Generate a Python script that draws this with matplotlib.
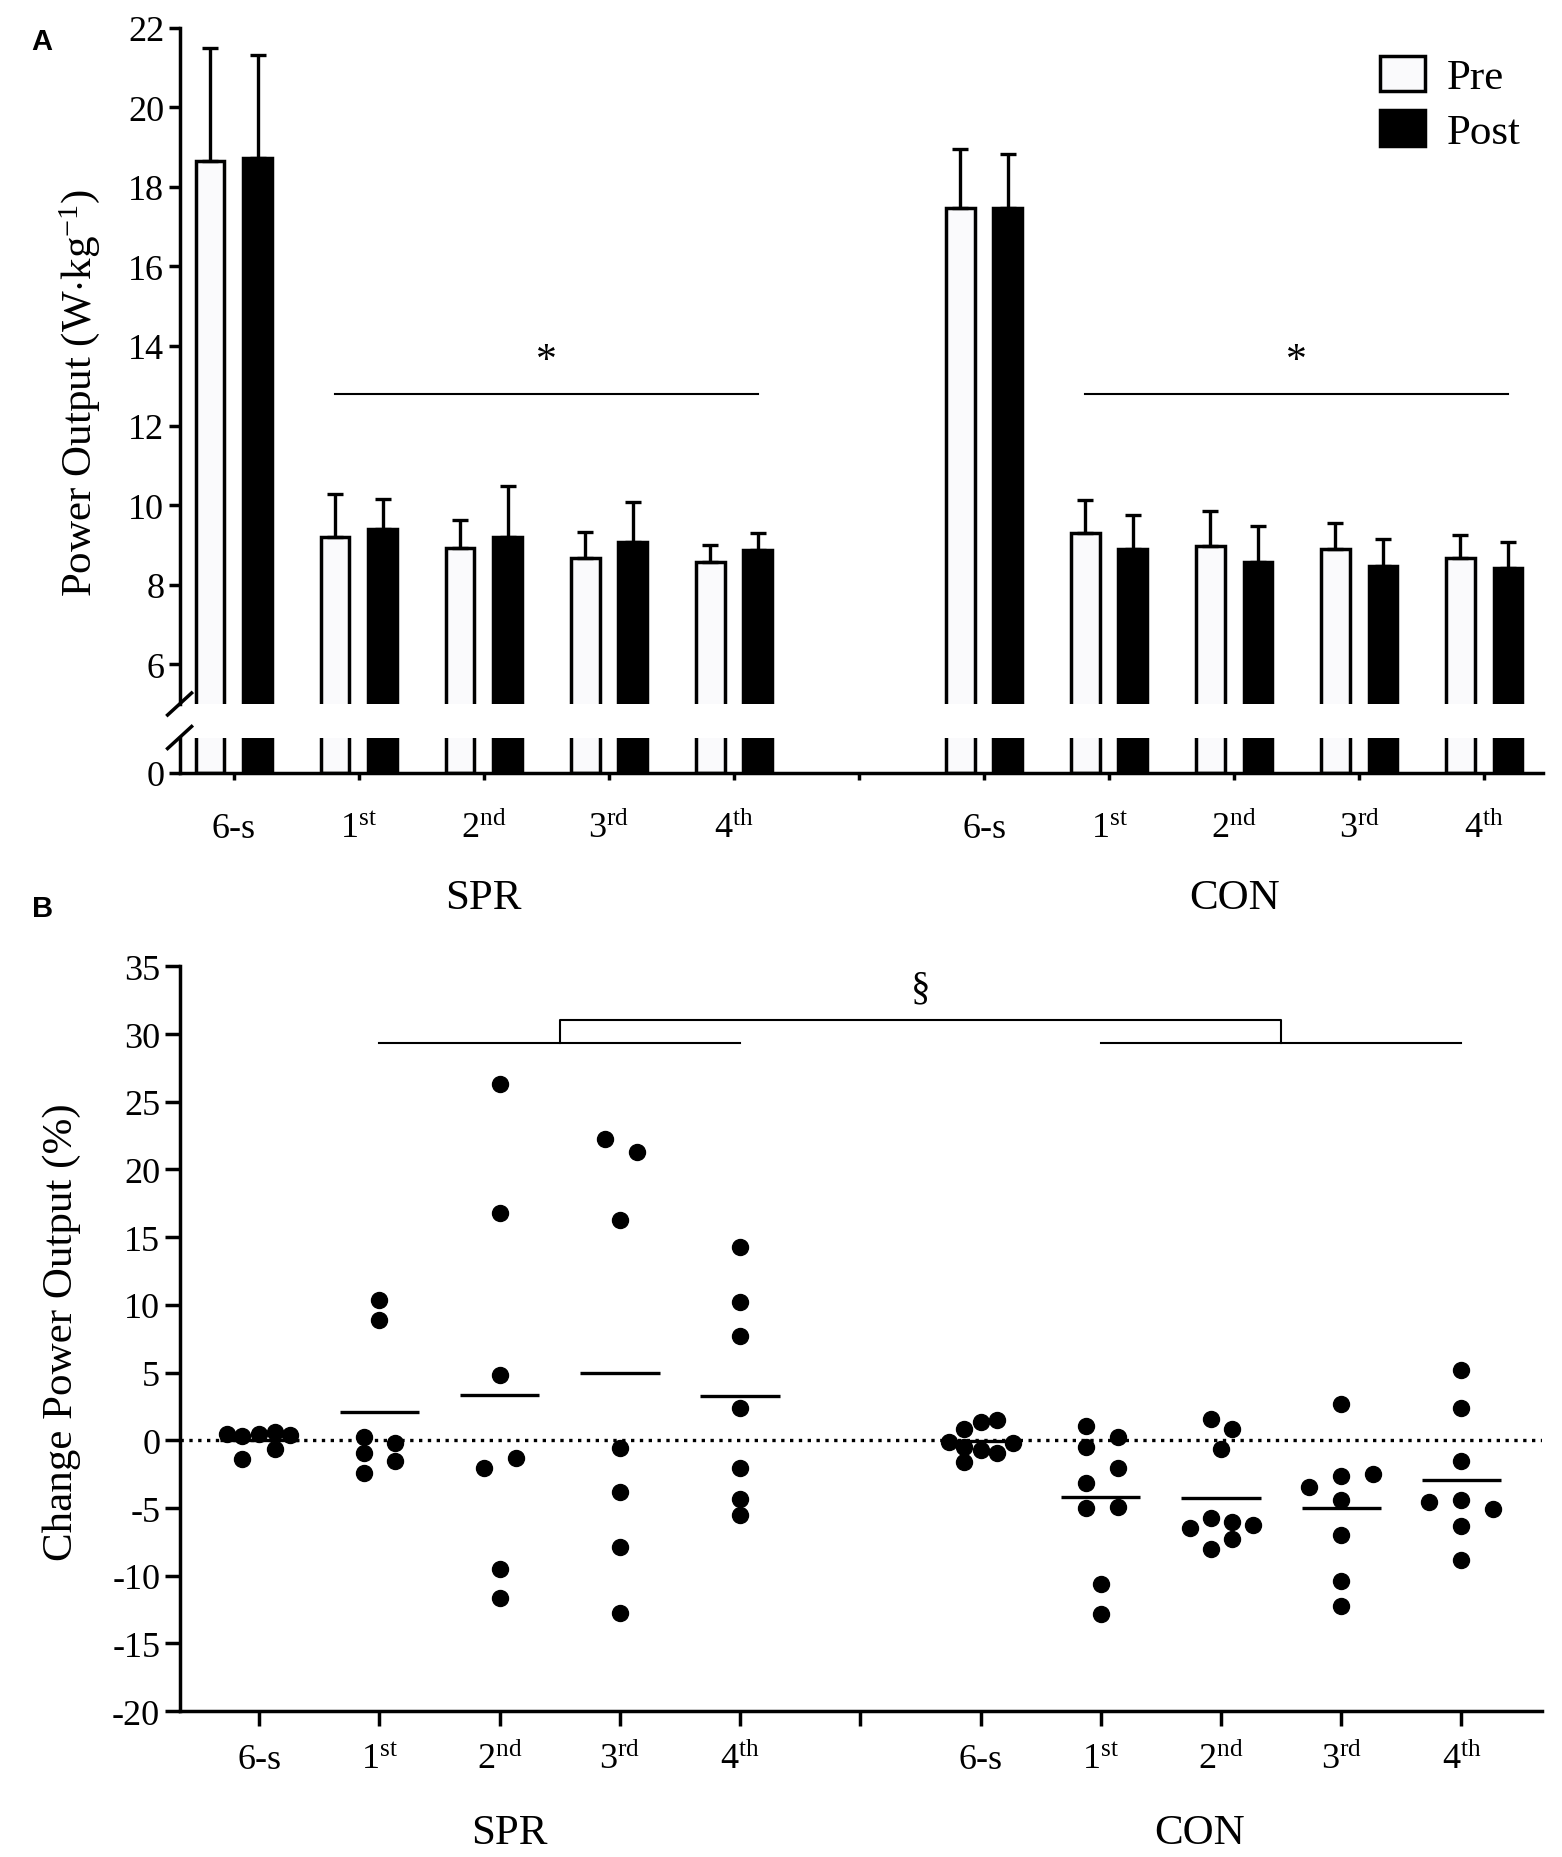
# %% Import
import numpy as np
import matplotlib.pyplot as plt
from matplotlib.patches import Patch
from matplotlib.lines import Line2D
from matplotlib import transforms

plt.rcParams['font.family'] = ['Liberation Serif', 'DejaVu Serif']
plt.rcParams['mathtext.fontset'] = 'custom'
plt.rcParams['mathtext.rm'] = 'Liberation Serif'
plt.rcParams['mathtext.it'] = 'Liberation Serif:italic'
plt.rcParams['axes.unicode_minus'] = False

# %% Data
groups = ['SPR', 'CON']
sessions = ['6-s', '1st', '2nd', '3rd', '4th']
tick_labels = ['6-s', r'1$^{\mathrm{st}}$', r'2$^{\mathrm{nd}}$',
               r'3$^{\mathrm{rd}}$', r'4$^{\mathrm{th}}$']

# panel A, mean and SD (W/kg)
spr_pre = [18.65, 9.21, 8.93, 8.67, 8.57]
spr_pre_sd = [2.84, 1.06, 0.69, 0.65, 0.42]
spr_post = [18.72, 9.39, 9.21, 9.08, 8.86]
spr_post_sd = [2.60, 0.77, 1.27, 0.99, 0.43]
con_pre = [17.48, 9.29, 8.96, 8.90, 8.66]
con_pre_sd = [1.46, 0.84, 0.90, 0.65, 0.59]
con_post = [17.48, 8.90, 8.57, 8.48, 8.41]
con_post_sd = [1.34, 0.85, 0.90, 0.68, 0.65]

# panel B, individual change (%)
spr_change = [
    [0.44, 0.30, 0.44, 0.58, 0.39, -1.36, -0.67],
    [10.39, 8.87, 0.25, -0.94, -0.21, -1.54, -2.42],
    [26.29, 16.75, 4.86, -2.05, -1.27, -9.52, -11.64],
    [22.28, 21.27, 16.29, -0.53, -3.85, -7.86, -12.74],
    [14.26, 10.25, 7.72, 2.37, -2.05, -4.31, -5.55],
]
con_change = [
    [-0.10, 0.86, 1.38, 1.50, -0.22, -0.49, -0.71, -0.91, -1.60],
    [1.06, -0.49, 0.25, -2.02, -3.13, -5.02, -4.90, -10.63, -12.85],
    [1.55, 0.86, -0.66, -6.50, -5.71, -6.03, -6.25, -8.00, -7.31],
    [2.66, -3.42, -2.63, -2.51, -4.41, -7.01, -10.39, -12.23],
    [5.18, 2.36, -1.53, -4.55, -4.41, -5.09, -6.32, -8.84],
]

# horizontal scatter offsets of the dots (layout only)
spr_jitter = [
    [-0.27, -0.14, 0, 0.13, 0.26, -0.14, 0.13],
    [0, 0, -0.13, -0.13, 0.13, 0.13, -0.13],
    [0, 0, 0, -0.13, 0.14, 0, 0],
    [-0.12, 0.14, 0, 0, 0, 0, 0],
    [0, 0, 0, 0, 0, 0, 0],
]
con_jitter = [
    [-0.26, -0.135, 0, 0.14, 0.27, -0.135, 0, 0.14, -0.135],
    [-0.125, -0.125, 0.14, 0.14, -0.125, -0.125, 0.14, 0, 0],
    [-0.083, 0.095, 0, -0.257, -0.083, 0.095, 0.27, -0.083, 0.095],
    [0, -0.266, 0, 0.266, 0, 0, 0, 0],
    [0, 0, 0, -0.27, 0, 0.26, 0, 0],
]

# %% Layout
W, H = 1562, 1858
fig = plt.figure(figsize=(W / 100, H / 100), dpi=100)


def rect(l, t, r, b):
    return [l / W, 1 - b / H, (r - l) / W, (b - t) / H]


pos_spr = np.arange(5)
pos_con = np.arange(6, 11)
xpos = np.r_[pos_spr, pos_con]
all_ticks = np.arange(11)
all_labels = tick_labels + [''] + tick_labels

pre = np.r_[spr_pre, con_pre]
pre_sd = np.r_[spr_pre_sd, con_pre_sd]
post = np.r_[spr_post, con_post]
post_sd = np.r_[spr_post_sd, con_post_sd]

off = 0.19
bw = 0.23
pre_color = '#fafafc'
lw_spine = 2.5

axA = fig.add_axes(rect(179.6, 28.7, 1543, 705))
axA0 = fig.add_axes(rect(179.6, 739.4, 1543, 773.8))
axB = fig.add_axes(rect(179.6, 967.3, 1542, 1712.2))

# %% Panel A (broken axis)
for ax in (axA, axA0):
    ax.bar(xpos - off, pre, bw, color=pre_color, edgecolor='k', linewidth=2.5, zorder=2)
    ax.bar(xpos + off, post, bw, color='k', edgecolor='k', linewidth=2.5, zorder=2)
    ax.errorbar(xpos - off, pre, yerr=[np.zeros_like(pre), pre_sd], fmt='none',
                ecolor='k', elinewidth=2.4, capsize=5.5, capthick=2.4, zorder=3)
    ax.errorbar(xpos + off, post, yerr=[np.zeros_like(post), post_sd], fmt='none',
                ecolor='k', elinewidth=2.4, capsize=5.5, capthick=2.4, zorder=3)
    ax.set_xlim(-0.433, 10.47)
    for s in ('top', 'right'):
        ax.spines[s].set_visible(False)
    for s in ('left', 'bottom'):
        ax.spines[s].set_linewidth(lw_spine)
    ax.tick_params(axis='y', labelsize=26, width=lw_spine, length=8, pad=3)

axA.set_ylim(5, 22)
axA.set_yticks(np.arange(6, 23, 2))
axA.spines['bottom'].set_visible(False)
axA.set_xticks([])

axA0.set_ylim(0, 0.864)
axA0.set_yticks([0])
axA0.set_xticks(all_ticks)
axA0.set_xticklabels(all_labels)
axA0.tick_params(axis='x', labelsize=26, width=lw_spine, length=5, pad=41)
for lbl in axA0.get_xticklabels():
    lbl.set_va('baseline')

# break marks on the y axis
for yc in (705, 738.5):
    fig.add_artist(Line2D([167.6 / W, 191.6 / W], [1 - (yc + 11) / H, 1 - (yc - 11) / H],
                          color='k', lw=2.5, transform=fig.transFigure))

# significance bars
for p in (pos_spr, pos_con):
    axA.plot([p[1] - off, p[-1] + off], [12.79, 12.79], color='k', lw=1.5)
    axA.text((p[1] + p[-1]) / 2, 13.62, '*', ha='center', va='center', fontsize=30)

axA.legend(handles=[Patch(facecolor=pre_color, edgecolor='k', linewidth=2.5),
                    Patch(facecolor='k', edgecolor='k', linewidth=2.5)],
           labels=['Pre', 'Post'], loc='upper left',
           bbox_to_anchor=(1380 / W, 1 - 57 / H), bbox_transform=fig.transFigure,
           frameon=False, fontsize=31, handlelength=1.05, handleheight=0.88,
           handletextpad=0.5, labelspacing=0.3, borderpad=0, borderaxespad=0)

fig.text(80 / W, 1 - 393 / H, r'Power Output (W$\cdot$kg$^{\mathrm{-1}}$)', rotation=90,
         ha='center', va='center', fontsize=31)

trA = transforms.blended_transform_factory(axA0.transData, fig.transFigure)
axA0.text(2, 1 - 909 / H, groups[0], transform=trA, ha='center', va='baseline', fontsize=31)
axA0.text(8, 1 - 909 / H, groups[1], transform=trA, ha='center', va='baseline', fontsize=31)

# %% Panel B
axB.axhline(0, color='k', ls=':', lw=2.4, zorder=1)
for p, vals, jit in ((pos_spr, spr_change, spr_jitter), (pos_con, con_change, con_jitter)):
    for i in range(5):
        v = np.array(vals[i])
        axB.plot(p[i] + np.array(jit[i]), v, 'o', color='k', ms=11.5, zorder=3)
        axB.hlines(np.mean(v), p[i] - 0.33, p[i] + 0.33, color='k', lw=2.4, zorder=2)

axB.set_xlim(-0.662, 10.67)
axB.set_ylim(-20, 35)
axB.set_yticks(np.arange(-20, 36, 5))
axB.set_xticks(all_ticks)
axB.set_xticklabels(all_labels)
for s in ('top', 'right'):
    axB.spines[s].set_visible(False)
for s in ('left', 'bottom'):
    axB.spines[s].set_linewidth(lw_spine)
axB.tick_params(axis='y', labelsize=26, width=lw_spine, length=11, pad=3)
axB.tick_params(axis='x', labelsize=26, width=lw_spine, length=11, pad=30)
for lbl in axB.get_xticklabels():
    lbl.set_va('baseline')

# bracket between groups
yb, yt = 29.33, 31.04
axB.plot([pos_spr[1], pos_spr[-1]], [yb, yb], color='k', lw=1.5)
axB.plot([pos_con[1], pos_con[-1]], [yb, yb], color='k', lw=1.5)
mid_s = (pos_spr[1] + pos_spr[-1]) / 2
mid_c = (pos_con[1] + pos_con[-1]) / 2
axB.plot([mid_s, mid_s, mid_c, mid_c], [yb, yt, yt, yb], color='k', lw=1.5)
axB.text((mid_s + mid_c) / 2, 33.4, '§', ha='center', va='center', fontsize=28)

fig.text(62 / W, 1 - 1332 / H, 'Change Power Output (%)', rotation=90,
         ha='center', va='center', fontsize=31)

trB = transforms.blended_transform_factory(axB.transData, fig.transFigure)
axB.text(2.08, 1 - 1844 / H, groups[0], transform=trB, ha='center', va='baseline', fontsize=31)
axB.text(7.82, 1 - 1844 / H, groups[1], transform=trB, ha='center', va='baseline', fontsize=31)

# panel letters
fig.text(42 / W, 1 - 42 / H, 'A', family='Liberation Sans', weight='bold',
         fontsize=21, ha='center', va='center')
fig.text(43 / W, 1 - 909 / H, 'B', family='Liberation Sans', weight='bold',
         fontsize=21, ha='center', va='center')

fig.savefig('out.png', dpi=100)
